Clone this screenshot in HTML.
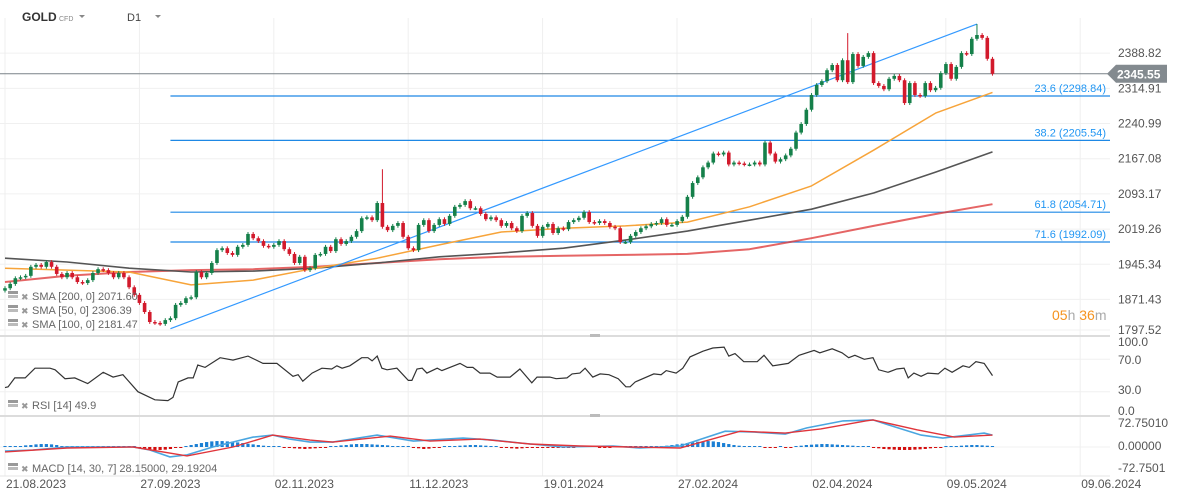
<!DOCTYPE html>
<html><head><meta charset="utf-8">
<style>
html,body{margin:0;padding:0;background:#fff;}
#wrap{position:relative;width:1177px;height:501px;overflow:hidden;font-family:"Liberation Sans",sans-serif;}
svg{position:absolute;left:0;top:0;}
.ax{font-size:12px;fill:#555;}
.lg{font-size:11px;fill:#666;}
</style></head>
<body>
<div id="wrap">
<svg id="chart" width="1177" height="501"></svg>
</div>
<script>
// ---- data ----
const closes = [1895,1904,1916,1918,1921,1940,1944,1940,1950,1940,1925,1918,1927,1918,1908,1906,1912,1927,1935,1933,1927,1918,1927,1918,1897,1881,1864,1845,1824,1822,1820,1828,1832,1860,1864,1874,1876,1929,1918,1927,1948,1975,
1979,1969,1965,1982,1986,2009,2000,1994,1984,1982,1986,1994,1977,1967,1948,1961,1933,1937,1965,1967,1982,1973,1998,1988,1994,2003,2015,2042,2044,2038,2074,2024,2017,2026,2032,2003,1979,1975,2028,2038,2015,2028,2040,2030,2047,2066,2070,2078,2063,2063,2051,2040,2044,2038,2026,2032,2021,2015,2047,2053,2026,2005,
2024,2030,2011,2021,2019,2034,2038,2043,2055,2034,2032,2036,2032,2024,2021,1992,1992,2005,2013,2021,2025,2030,2032,2040,2028,2028,2036,2045,2087,2116,
2128,2149,2159,2178,2176,2180,2155,2159,2157,2155,2155,2159,2155,2201,2178,2161,2166,2174,2188,2222,2240,2270,
2301,2322,2330,2353,2364,2332,2374,2328,2387,2362,2381,2389,2326,2320,2313,2335,2341,2332,2284,2326,2301,2299,2326,2311,2316,2347,2366,2335,2360,2389,2387,2419,2427,2421,2377,2345.55];
const spikeIdx = [73, 163, 188];
const spikeHigh = [2145, 2431, 2450];
const smaIdx = [0,12,24,36,48,60,72,84,96,108,120,132,144,156,168,180,191];
const sma50 = [1937,1933,1929,1902,1912,1937,1958,1986,2013,2021,2026,2034,2066,2110,2185,2263,2306.39];
const sma100 = [1958,1950,1937,1929,1931,1937,1948,1961,1969,1979,1996,2015,2038,2061,2095,2139,2181.47];
const sma200 = [1908,1921,1929,1933,1935,1940,1948,1956,1961,1963,1965,1967,1977,2000,2026,2051,2071.60];
const fibLevels = [23.6,38.2,61.8,71.6];
const fibPrices = [2298.84,2205.54,2054.71,1992.09];
const priceTicks = [2388.82,2314.91,2240.99,2167.08,2093.17,2019.26,1945.34,1871.43,1797.52];
const dateLabels = ["21.08.2023","27.09.2023","02.11.2023","11.12.2023","19.01.2024","27.02.2024","02.04.2024","09.05.2024","09.06.2024"];
const rsiIdx = [0,0.6,1.9,3.9,5.8,8.7,9.7,11.6,13.5,16,19,20.9,22.8,25.7,29,31.5,32.5,33.5,35.4,36.4,37.3,38.7,41.6,44.1,47,49.9,52.6,55.7,56.7,57.6,59.4,61.3,63.2,64.2,65.2,66.7,69,70.2,71,72,72.9,73.9,75.8,78,78.7,79.7,80.7,81.6,83.6,84.5,88,89.4,90.5,91.9,93.8,95.2,97.7,99.6,101.9,102.9,105.4,106.6,108.7,109.7,111.2,112.2,113.7,115.1,116.8,118.6,120.1,120.9,121.9,125.5,126.9,127.9,129.8,131.1,132.5,135,136.9,139.1,140,141.2,142.9,145.5,146.8,148.5,151.5,153.6,156.5,157.6,160,161.9,163.2,164.4,166.2,167.9,169,170.8,172.5,173.9,174.7,175.8,177.2,178.5,180.5,181.8,183.2,185.3,186.5,187.8,189.4,191];
const rsiVal = [35,36,47,47,59,59,57,46,47,40,54,48,51,30,20,19,23,42,47,47,63,60,72,69,74,65,65,49,51,43,53,59,58,62,59,62,72,72,68,74,59,57,59,44,44,58,59,53,59,56,65,60,60,53,53,48,48,58,41,48,48,46,47,52,53,59,48,52,51,46,36,36,42,52,51,56,53,59,73,80,84,85,74,77,67,67,75,62,65,75,81,78,83,78,72,75,70,72,57,54,58,59,47,53,49,53,52,59,54,62,60,67,65,49.9];
const macdIdx = [0,5.4,12,24.8,28,31.9,35.2,40.2,48,51.8,55.1,59,63.4,72,79,88.6,94.4,99.6,107.9,117.6,122.8,130.6,139.3,145,150.9,155.1,162.1,167.9,172.1,177.2,181.4,189.4,191];
const macdVal = [-12,-9,0,0,-9,-30,-24,0,30,36,24,15,15,36,18,27,21,12,0,3,-3,3,48,45,39,58,79,82,61,36,27,42,36];
const sigIdx = [0,12,24.8,35.2,44.1,51.8,59,63.4,74.5,82.2,91.9,101.5,111.2,120.9,130.6,142.2,150.9,157.8,166.5,167.9,176.4,183.6,191];
const sigVal = [-15,-3,0,-27,0,36,21,15,33,18,24,9,3,0,-3,48,42,55,79,82,52,30,36];
const hist = [1,1,1, 3,5,6,8,9,9,8,6, 2,1,1,1,1,1,1,1,1,1,1,1,1,1,1, -3,-6,-9,-9,-9,-8,-6,-3,-1,
3,6,9,12,15,17,18,18,17,16,14,12,10,8,6,4,3,2,1, -2,-3,-4,-5,-6,-5,-4,-3,-1,
2,3,5,6,8,9,9,9,8,7,6,5,3,2,1,1, -2,-4,-6,-5,-3,-1, 1,2,3,4,5,6,6,5,4,2,1,
-2,-3,-4,-5,-4,-3,-1, -1,-2,-2,-1,-1,-1, -1,-1,1,1,1,1,-1,-1,-1,1,1,1,1,1,1,1,1,
2,3,4,6,8,10,12,14,16,17,18,17,15,12,9,6,4,3,2,1,1, -1,-2,-1,1,-1,-1,
2,4,6,7,8,9,9,8,7,6,5,4,3,2,1, -2,-4,-6,-7,-8,-9,-9,-9,-8,-7,-6,-4,-3,-1, 1,2,3,4,5,6,6,5,4,3];
const lastPrice = 2345.55;

// ---- axes ----
const X0 = 5, STEP = 5.17, PLOT_R = 1110;
const xS = i => X0 + i * STEP;
const yP = p => 96 + (2298.84 - p) / 2.101;
const yR = v => 416 - v * 0.81;
const yM = v => 447 - v * 0.33;

const svg = document.getElementById('chart');
const NS = 'http://www.w3.org/2000/svg';
function mk(tag, attrs, parent) {
  const e = document.createElementNS(NS, tag);
  for (const k in attrs) e.setAttribute(k, attrs[k]);
  (parent || svg).appendChild(e);
  return e;
}
function txt(x, y, s, cls, extra, parent) {
  const t = mk('text', Object.assign({x: x, y: y, class: cls}, extra || {}), parent);
  t.textContent = s;
  return t;
}

// grid
const grid = mk('g', {});


dateLabels.forEach((d, k) => {
  const gx = X0 + k * 134.4;
  mk('line', {x1: gx, y1: 18, x2: gx, y2: 476, stroke: '#efefef', 'stroke-width': 1}, grid);
});
priceTicks.forEach(p => {
  const y = Math.min(yP(p), 330);
  mk('line', {x1: 0, y1: y, x2: PLOT_R, y2: y, stroke: '#f0f0f0', 'stroke-width': 1}, grid);
});
[70, 30].forEach(v => mk('line', {x1: 0, y1: yR(v), x2: PLOT_R, y2: yR(v), stroke: '#f0f0f0'}, grid));
mk('line', {x1: 0, y1: yM(0), x2: PLOT_R, y2: yM(0), stroke: '#f0f0f0'}, grid);

// fib lines
fibPrices.forEach((p, k) => {
  const g = mk('g', {});
  
  
  const y = yP(p);
  mk('line', {x1: xS(32), y1: y, x2: PLOT_R, y2: y, stroke: '#1e88e5', 'stroke-width': 1.2}, g);
  const t = txt(1106, y - 4, fibLevels[k].toFixed(1) + ' (' + p.toFixed(2) + ')', '', {'font-size': 11, fill: '#2196f3', 'text-anchor': 'end'}, g);
  
  
});

// SMA lines
function smaLine(vals, color, w, name) {
  const pts = smaIdx.map((i, k) => xS(i).toFixed(1) + ',' + yP(vals[k]).toFixed(1)).join(' ');
  const l = mk('polyline', {points: pts, fill: 'none', stroke: color, 'stroke-width': w, 'stroke-linejoin': 'round'});
  
  
}
smaLine(sma200, 'rgba(220,50,50,0.75)', 2, 'sma-200-line');
smaLine(sma100, '#555', 1.6, 'sma-100-line');
smaLine(sma50, '#f7a43a', 1.5, 'sma-50-line');

// trend line
const tl = mk('line', {x1: xS(32), y1: yP(1810), x2: xS(188), y2: yP(2450), stroke: '#3399ff', 'stroke-width': 1.2});



// current price line
const cpl = mk('line', {x1: 0, y1: yP(lastPrice), x2: PLOT_R, y2: yP(lastPrice), stroke: '#7a8288', 'stroke-width': 1});



// candles
const cg = mk('g', {});


closes.forEach((c, i) => {
  const o = i === 0 ? 1890 : closes[i - 1];
  const up = c >= o;
  const col = up ? '#15804a' : '#d21a2c';
  let hi = Math.max(o, c) + 4, lo = Math.min(o, c) - 4;
  const si = spikeIdx.indexOf(i);
  if (si >= 0) hi = spikeHigh[si];
  const x = xS(i);
  const g = mk('g', {}, cg);
  
  
  mk('line', {x1: x, y1: yP(hi), x2: x, y2: yP(lo), stroke: col, 'stroke-width': 1}, g);
  const yt = yP(Math.max(o, c)), yb = yP(Math.min(o, c));
  mk('rect', {x: x - 1.8, y: yt, width: 3.6, height: Math.max(1.5, yb - yt), fill: col}, g);
});

// price axis
priceTicks.forEach(p => {
  const t = txt(1118, Math.min(yP(p), 330) + 4, p.toFixed(2), 'ax');
  
  
});
// price tag
const tg = mk('g', {});


const ty = yP(lastPrice);
mk('polygon', {points: `1107,${ty} 1116,${ty-9} 1167,${ty-9} 1167,${ty+9} 1116,${ty+9}`, fill: '#838a8f'}, tg);
txt(1117, ty + 4.5, lastPrice.toFixed(2), '', {'font-size': 12, 'font-weight': 'bold', fill: '#fff'}, tg);

// countdown
const cd = mk('text', {x: 1052, y: 320, 'font-size': 14});


cd.innerHTML = '<tspan fill="#f5931f">05</tspan><tspan fill="#aaa">h </tspan><tspan fill="#f5931f">36</tspan><tspan fill="#aaa">m</tspan>';

// pane separators
[336, 416].forEach((y, k) => {
  const s = mk('rect', {x: 0, y: y - 1, width: PLOT_R, height: 2, fill: '#dcdcdc'});
  
  
  mk('rect', {x: 590, y: y - 2, width: 10, height: 3, fill: '#bbb'});
});
mk('line', {x1: 0, y1: 476, x2: PLOT_R, y2: 476, stroke: '#e6e6e6'});

// RSI
const rpts = rsiIdx.map((i, k) => xS(i).toFixed(1) + ',' + yR(rsiVal[k]).toFixed(1)).join(' ');
const rl = mk('polyline', {points: rpts, fill: 'none', stroke: '#333', 'stroke-width': 1.2});


[['100.0', 346], ['70.0', 364], ['30.0', 394], ['0.0', 415]].forEach(a => {
  const t = txt(1118, a[1], a[0], 'ax');
  
  
});

// MACD
const hg = mk('g', {});


hist.forEach((v, i) => {
  const h = Math.max(1, Math.abs(v) * 0.33);
  const r = mk('rect', {x: xS(i) - 1.6, y: v >= 0 ? yM(0) - h : yM(0), width: 3.2, height: h, fill: v >= 0 ? '#1a7fd4' : '#d40d0d'}, hg);
  
  
});
const mpts = macdIdx.map((i, k) => xS(i).toFixed(1) + ',' + yM(macdVal[k]).toFixed(1)).join(' ');
const ml = mk('polyline', {points: mpts, fill: 'none', stroke: '#4aa6e0', 'stroke-width': 1.6});


const spts = sigIdx.map((i, k) => xS(i).toFixed(1) + ',' + yM(sigVal[k]).toFixed(1)).join(' ');
const sl = mk('polyline', {points: spts, fill: 'none', stroke: '#e0353b', 'stroke-width': 1.4});


[['72.75010', 427], ['0.00000', 450], ['-72.7501', 472]].forEach(a => {
  const t = txt(1118, a[1], a[0], 'ax');
  
  
});

// date axis
dateLabels.forEach((d, k) => {
  const t = txt(X0 + k * 134.4 + 1, 488, d, 'ax');
  
  
});

// legends
function legend(y, s, name) {
  const g = mk('g', {});
  
  
  mk('rect', {x: 8, y: y - 9, width: 10, height: 3, fill: '#999'}, g);
  mk('rect', {x: 8, y: y - 5, width: 10, height: 3, fill: '#bbb'}, g);
  txt(21, y, '✖', '', {'font-size': 9, fill: '#999'}, g);
  txt(32, y, s, 'lg', {}, g);
}
legend(300, 'SMA [200,  0]  2071.60', 'sma-200-legend');
legend(314, 'SMA [50,  0]  2306.39', 'sma-50-legend');
legend(328, 'SMA [100,  0]  2181.47', 'sma-100-legend');
legend(409, 'RSI  [14]  49.9', 'rsi-legend');
legend(472, 'MACD  [14,  30,  7]  28.15000,   29.19204', 'macd-legend');

// header
const hd = mk('g', {});


txt(22, 21, 'GOLD', '', {'font-size': 12, 'font-weight': 'bold', fill: '#333', 'font-family': 'Liberation Sans, sans-serif'}, hd);
txt(59, 21, 'CFD', '', {'font-size': 7, fill: '#888'}, hd);
mk('polygon', {points: '79,15 85,15 82,18', fill: '#888'}, hd);
const tf = mk('g', {});


txt(127, 21, 'D1', '', {'font-size': 11, fill: '#444'}, tf);
mk('polygon', {points: '155,15 161,15 158,18', fill: '#888'}, tf);
</script>
</body></html>
